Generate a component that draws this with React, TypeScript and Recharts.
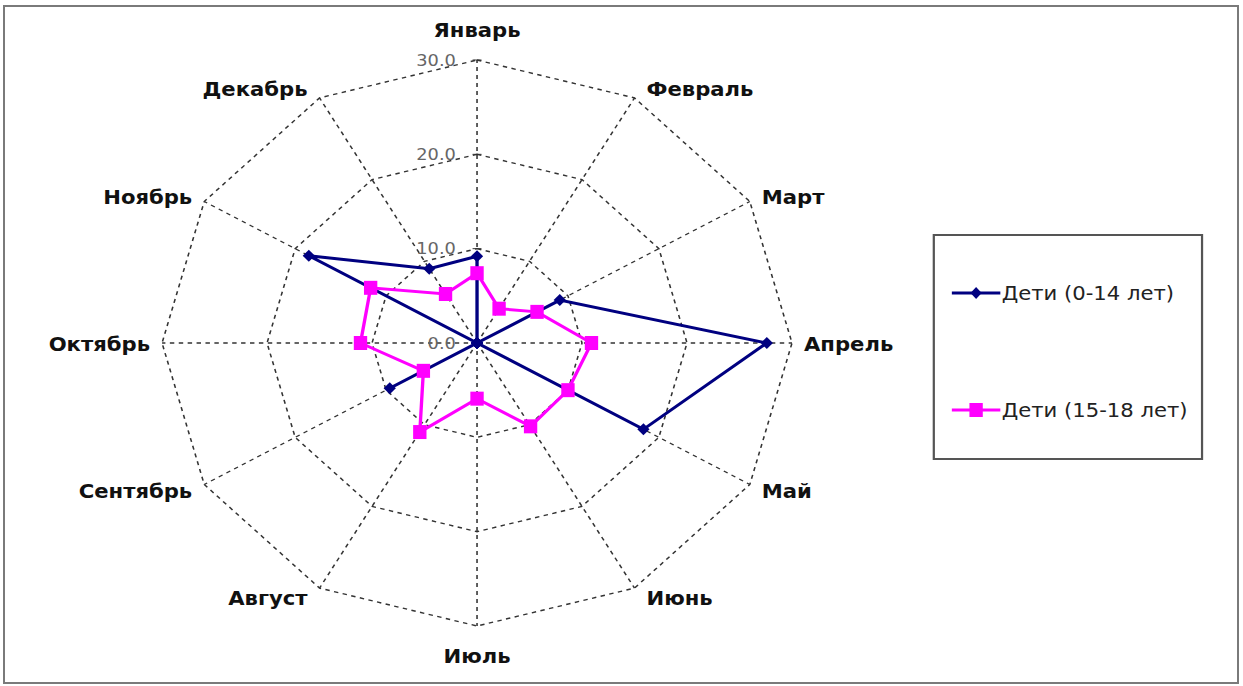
import React from 'react';
import { RadarChart, Radar, PolarGrid, PolarAngleAxis, PolarRadiusAxis, Legend } from 'recharts';

// months around the radar, clockwise from the top
const months = [
  'Январь', 'Февраль', 'Март', 'Апрель', 'Май', 'Июнь',
  'Июль', 'Август', 'Сентябрь', 'Октябрь', 'Ноябрь', 'Декабрь',
];

const kids0to14 = [9.2, 0, 9.1, 27.6, 18.3, 0, 0, 0, 9.6, 0, 18.5, 9.1];
const kids15to18 = [7.4, 4.2, 6.6, 10.9, 10.0, 10.2, 5.9, 10.9, 5.9, 11.1, 11.7, 6.0];

const radiusTicks = [0, 10, 20, 30];

const data = months.map((m, i) => ({ month: m, a: kids0to14[i], b: kids15to18[i] }));

// the original picture is wider than tall, so the chart is stretched in x
const SX = 1.113;
const CX = 428.6;
const CY = 343;
const R = 283;
const FONT = '"DejaVu Sans", Verdana, sans-serif';

const NAVY = '#000080';
const PINK = '#ff00ff';

const AngleTick = (props: any) => {
  const { payload } = props;
  const idx = props.index ?? months.indexOf(payload.value);
  const th = (idx * Math.PI) / 6;
  const s = Math.sin(th);
  const c = Math.cos(th);
  const vx = CX + R * s;
  const vy = CY - R * c;
  let anchor = 'middle';
  let x = vx;
  let y;
  if (Math.abs(s) < 0.01) {
    y = vy - c * 30;
  } else {
    anchor = s > 0 ? 'start' : 'end';
    x = vx + ((s > 0 ? 1 : -1) * 12) / SX;
    y = vy - c * 11 + 1;
  }
  return (
    <text x={x} y={y} textAnchor={anchor} dominantBaseline="central"
      fontFamily={FONT} fontWeight="bold" fontSize={19} fill="#111">
      {payload.value}
    </text>
  );
};

const RadiusTick = (props: any) => {
  const { x, y, payload } = props;
  return (
    <g>
      <line x1={x - 4} y1={y} x2={x + 4} y2={y} stroke="#333" />
      <text x={x - 19} y={y} textAnchor="end" dominantBaseline="central"
        fontFamily={FONT} fontSize={16} fill="#666">
        {Number(payload.value).toFixed(1)}
      </text>
    </g>
  );
};

const Diamond = (props: any) => {
  const { cx, cy } = props;
  if (cx == null || cy == null) return null;
  return <path d={`M${cx},${cy - 6} L${cx + 5.5},${cy} L${cx},${cy + 6} L${cx - 5.5},${cy} Z`} fill={NAVY} />;
};

const Square = (props: any) => {
  const { cx, cy } = props;
  if (cx == null || cy == null) return null;
  return <rect x={cx - 6} y={cy - 7} width={12} height={14} fill={PINK} />;
};

const LegendBox = (props: any) => {
  const items = props.payload || [];
  return (
    <div style={{
      width: 243, height: 226, boxSizing: 'border-box', border: '2px solid #555',
      background: '#fff', position: 'relative', fontFamily: FONT, fontSize: 19, color: '#222',
    }}>
      {items.map((it: any, i: number) => (
        <div key={it.value} style={{ position: 'absolute', left: 15, top: i === 0 ? 45 : 162, display: 'flex', alignItems: 'center' }}>
          <svg width={44} height={24}>
            <line x1={0} y1={12} x2={44} y2={12} stroke={it.color} strokeWidth={3} />
            {i === 0
              ? <path d="M22,6 L27,12 L22,18 L17,12 Z" fill={it.color} />
              : <rect x={16} y={5} width={12} height={14} fill={it.color} />}
          </svg>
          <span style={{ marginLeft: 1 }}>{it.value}</span>
        </div>
      ))}
    </div>
  );
};

export default function App() {
  return (
    <div style={{ position: 'relative', width: 1243, height: 686, background: '#fff', overflow: 'hidden' }}>
      <style>{'body{margin:0}'}</style>
      <div style={{ position: 'absolute', left: 3, top: 5, width: 1236, height: 679, boxSizing: 'border-box', border: '2px solid #7a7a7a' }} />
      <div style={{ position: 'absolute', left: 0, top: 0, transform: `scaleX(${SX})`, transformOrigin: '0 0' }}>
        <RadarChart width={1117} height={686} cx={CX} cy={CY} outerRadius={R} data={data}
          margin={{ top: 0, right: 0, bottom: 0, left: 0 }} startAngle={90} endAngle={-270}>
          <PolarGrid gridType="polygon" stroke="#333" strokeWidth={1.4} strokeDasharray="4 4" />
          <PolarAngleAxis dataKey="month" tick={AngleTick} tickLine={false} axisLine={false} />
          <PolarRadiusAxis angle={90} domain={[0, 30]} ticks={radiusTicks} tickCount={4}
            axisLine={false} tick={RadiusTick} tickLine={false} />
          <Radar name="Дети (0-14 лет)" dataKey="a" stroke={NAVY} strokeWidth={3} fill="none"
            dot={Diamond} isAnimationActive={false} />
          <Radar name="Дети (15-18 лет)" dataKey="b" stroke={PINK} strokeWidth={3} fill="none"
            dot={Square} isAnimationActive={false} />
          <Legend layout="vertical" align="right" verticalAlign="middle" content={LegendBox}
            wrapperStyle={{ left: 838, top: 234, width: 243, height: 226 }} />
        </RadarChart>
      </div>
    </div>
  );
}
